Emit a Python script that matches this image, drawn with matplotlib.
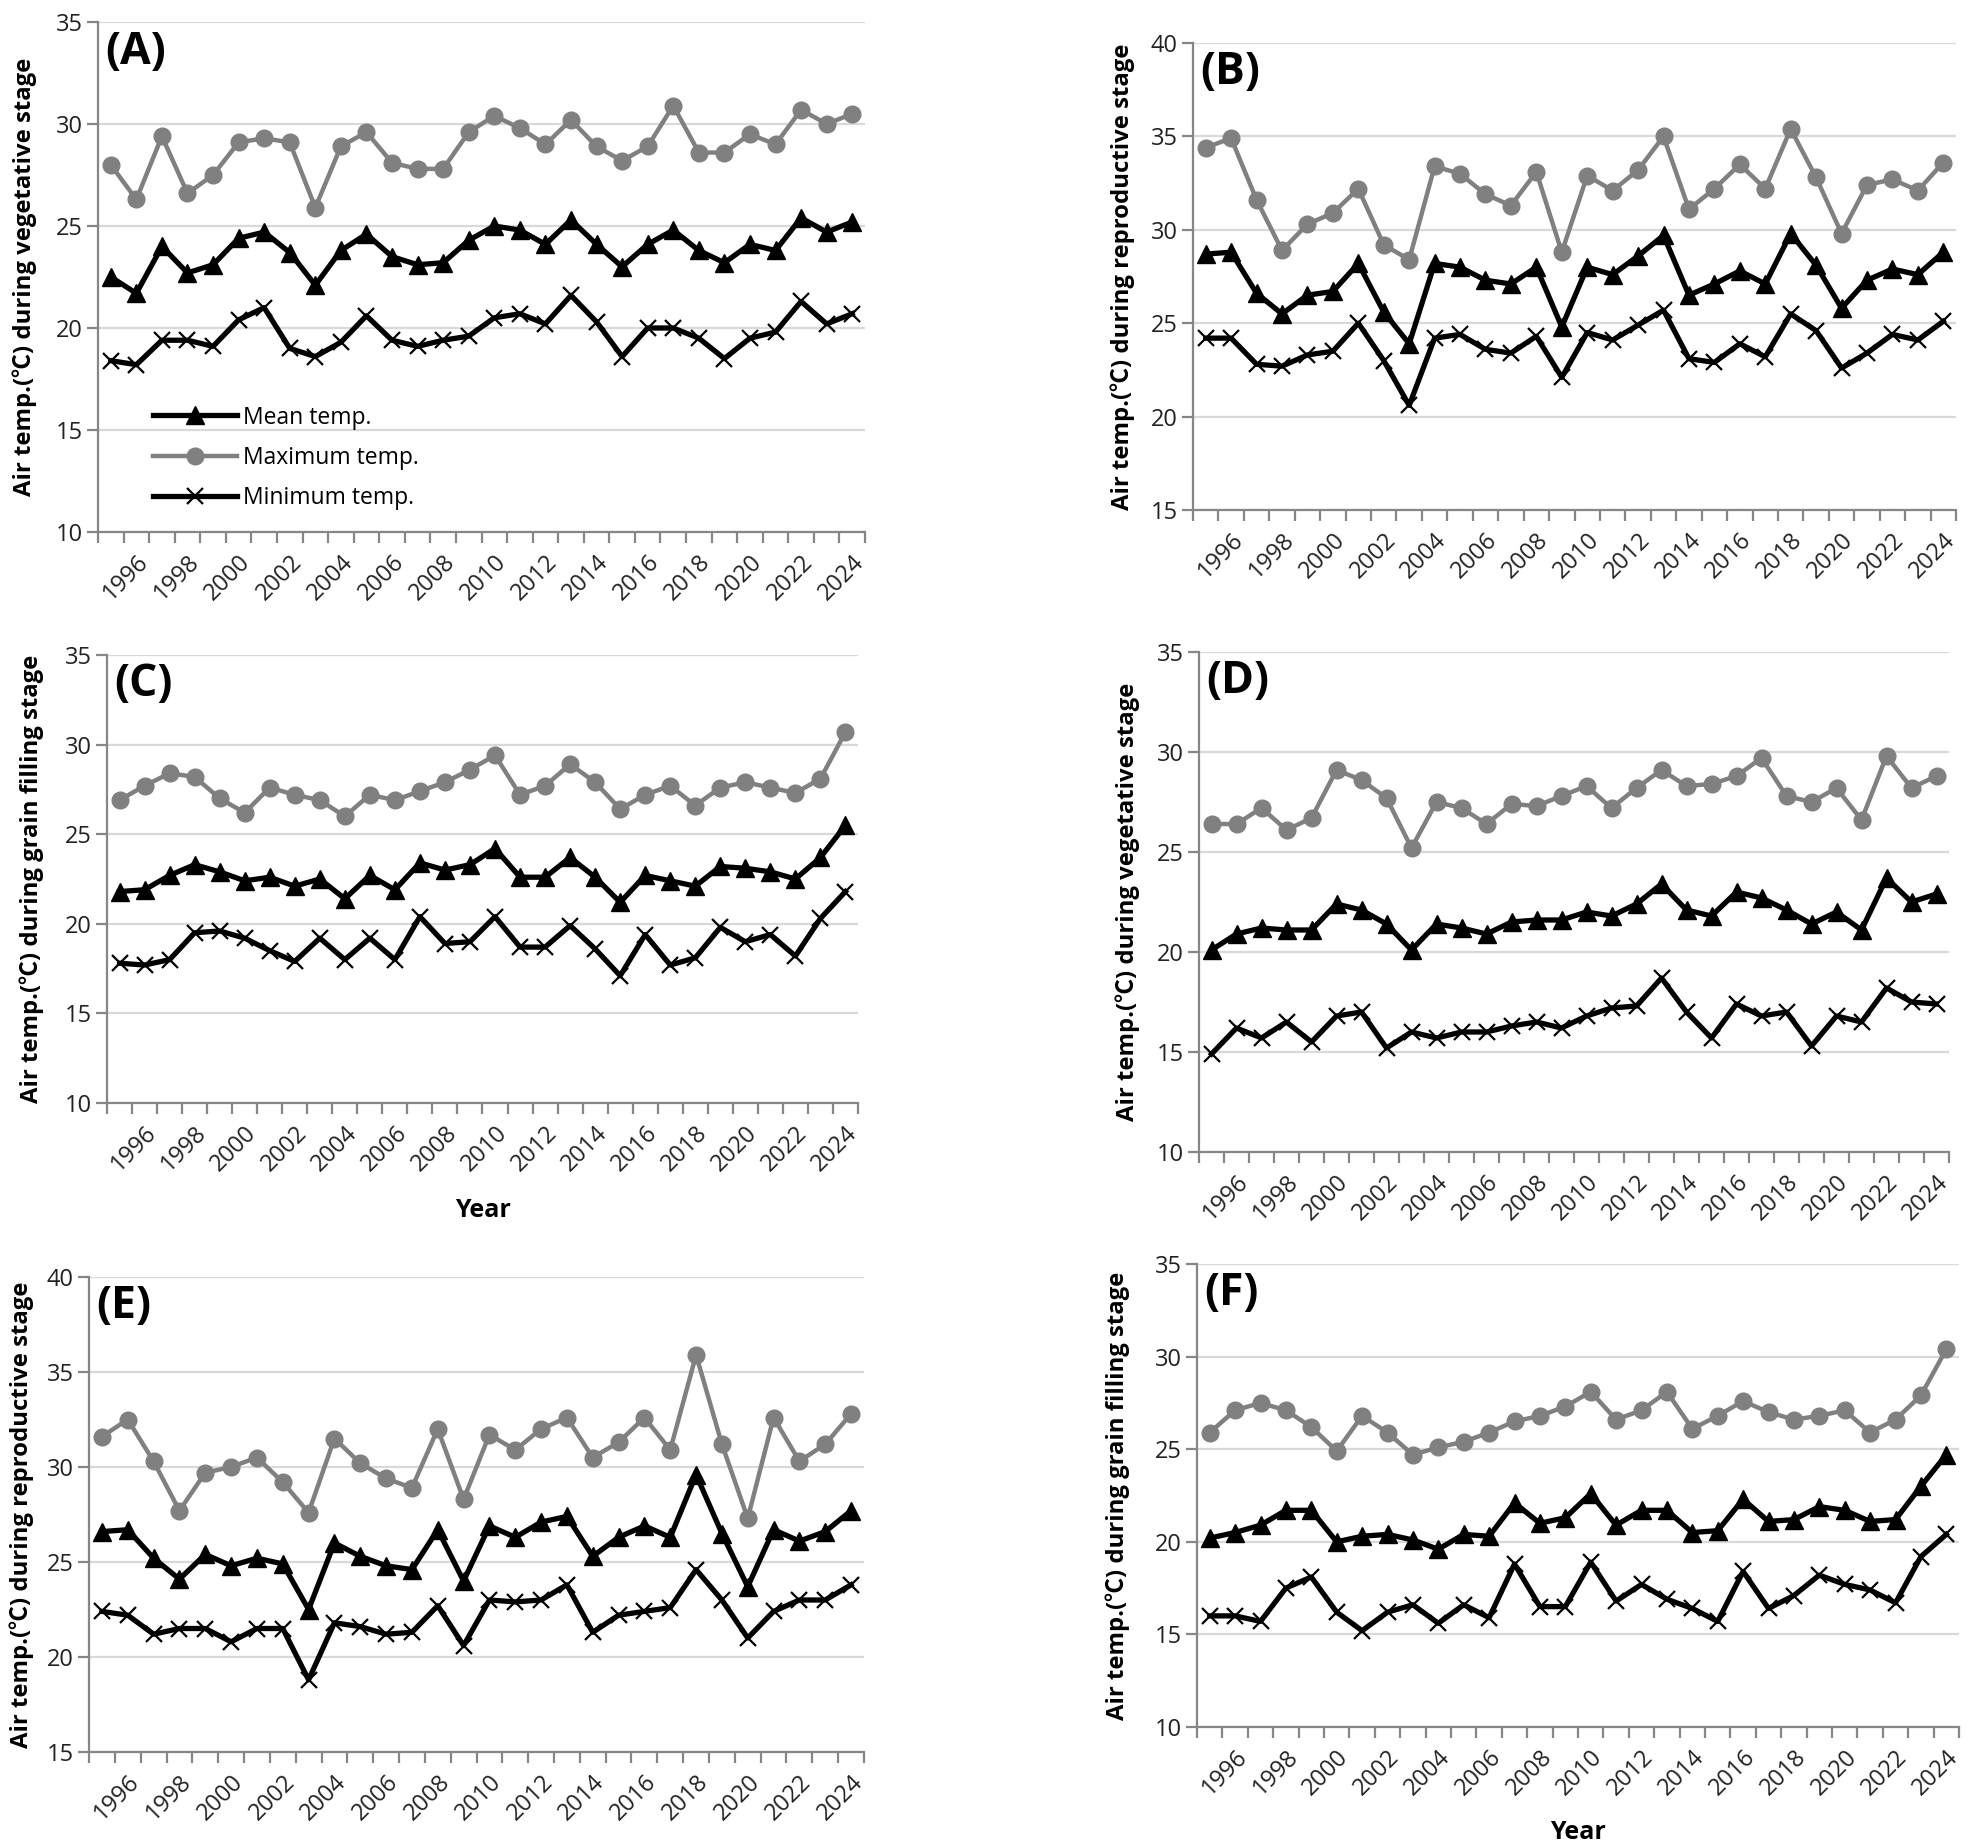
import numpy as np
import matplotlib
matplotlib.use("Agg")
import matplotlib.pyplot as plt

plt.rcParams['font.family'] = ['Open Sans', 'Noto Sans CJK KR', 'DejaVu Sans']

years = list(range(1995, 2025))
tick_years = [str(y) for y in range(1996, 2025, 2)]

# (A) vegetative stage
a_max = [28.0, 26.3, 29.4, 26.6, 27.5, 29.1, 29.3, 29.1, 25.9, 28.9, 29.6, 28.1, 27.8, 27.8, 29.6,
         30.4, 29.8, 29.0, 30.2, 28.9, 28.2, 28.9, 30.9, 28.6, 28.6, 29.5, 29.0, 30.7, 30.0, 30.5]
a_mean = [22.5, 21.7, 24.0, 22.7, 23.1, 24.4, 24.7, 23.7, 22.1, 23.8, 24.6, 23.5, 23.1, 23.2, 24.3,
          25.0, 24.8, 24.1, 25.3, 24.1, 23.0, 24.1, 24.8, 23.8, 23.2, 24.1, 23.8, 25.4, 24.7, 25.2]
a_min = [18.4, 18.2, 19.4, 19.4, 19.1, 20.4, 21.0, 19.0, 18.6, 19.3, 20.6, 19.4, 19.1, 19.4, 19.6,
         20.5, 20.7, 20.2, 21.6, 20.3, 18.6, 20.0, 20.0, 19.5, 18.5, 19.5, 19.8, 21.3, 20.2, 20.7]

# (B) reproductive stage
b_max = [34.4, 34.9, 31.6, 28.9, 30.3, 30.9, 32.2, 29.2, 28.4, 33.4, 33.0, 31.9, 31.3, 33.1, 28.8,
         32.9, 32.1, 33.2, 35.0, 31.1, 32.2, 33.5, 32.2, 35.4, 32.8, 29.8, 32.4, 32.7, 32.1, 33.6]
b_mean = [28.7, 28.8, 26.6, 25.5, 26.5, 26.7, 28.2, 25.6, 23.9, 28.2, 28.0, 27.3, 27.1, 28.0, 24.8,
          28.0, 27.6, 28.6, 29.7, 26.5, 27.1, 27.8, 27.1, 29.8, 28.1, 25.8, 27.3, 27.9, 27.6, 28.8]
b_min = [24.2, 24.2, 22.8, 22.7, 23.3, 23.5, 25.0, 23.0, 20.6, 24.2, 24.4, 23.6, 23.4, 24.3, 22.1,
         24.5, 24.1, 24.9, 25.7, 23.1, 22.9, 23.9, 23.2, 25.5, 24.6, 22.6, 23.4, 24.4, 24.1, 25.1]

# (C) grain filling stage
c_max = [26.9, 27.7, 28.4, 28.2, 27.0, 26.2, 27.6, 27.2, 26.9, 26.0, 27.2, 26.9, 27.4, 27.9, 28.6,
         29.4, 27.2, 27.7, 28.9, 27.9, 26.4, 27.2, 27.7, 26.6, 27.6, 27.9, 27.6, 27.3, 28.1, 30.7]
c_mean = [21.8, 21.9, 22.7, 23.3, 22.9, 22.4, 22.6, 22.1, 22.5, 21.4, 22.7, 21.9, 23.4, 23.0, 23.3,
          24.2, 22.6, 22.6, 23.7, 22.6, 21.2, 22.7, 22.4, 22.1, 23.2, 23.1, 22.9, 22.5, 23.7, 25.5]
c_min = [17.8, 17.7, 18.0, 19.5, 19.6, 19.2, 18.5, 17.9, 19.2, 18.0, 19.2, 18.0, 20.4, 18.9, 19.0,
         20.4, 18.7, 18.7, 19.9, 18.6, 17.1, 19.4, 17.7, 18.1, 19.8, 19.0, 19.4, 18.2, 20.3, 21.8]

# (D) vegetative stage
d_max = [26.4, 26.4, 27.2, 26.1, 26.7, 29.1, 28.6, 27.7, 25.2, 27.5, 27.2, 26.4, 27.4, 27.3, 27.8,
         28.3, 27.2, 28.2, 29.1, 28.3, 28.4, 28.8, 29.7, 27.8, 27.5, 28.2, 26.6, 29.8, 28.2, 28.8]
d_mean = [20.1, 20.9, 21.2, 21.1, 21.1, 22.4, 22.1, 21.4, 20.1, 21.4, 21.2, 20.9, 21.5, 21.6, 21.6,
          22.0, 21.8, 22.4, 23.4, 22.1, 21.8, 23.0, 22.7, 22.1, 21.4, 22.0, 21.1, 23.7, 22.5, 22.9]
d_min = [14.9, 16.2, 15.7, 16.5, 15.5, 16.8, 17.0, 15.2, 16.0, 15.7, 16.0, 16.0, 16.3, 16.5, 16.2,
         16.8, 17.2, 17.3, 18.7, 17.0, 15.7, 17.4, 16.8, 17.0, 15.3, 16.8, 16.5, 18.2, 17.5, 17.4]

# (E) reproductive stage
e_max = [31.6, 32.5, 30.3, 27.7, 29.7, 30.0, 30.5, 29.2, 27.6, 31.5, 30.2, 29.4, 28.9, 32.0, 28.3,
         31.7, 30.9, 32.0, 32.6, 30.5, 31.3, 32.6, 30.9, 35.9, 31.2, 27.3, 32.6, 30.3, 31.2, 32.8]
e_mean = [26.6, 26.7, 25.2, 24.1, 25.4, 24.8, 25.2, 24.9, 22.5, 26.0, 25.3, 24.8, 24.6, 26.7, 24.0,
          26.9, 26.3, 27.1, 27.4, 25.3, 26.3, 26.9, 26.3, 29.6, 26.5, 23.7, 26.7, 26.1, 26.6, 27.7]
e_min = [22.4, 22.2, 21.2, 21.5, 21.5, 20.8, 21.5, 21.5, 18.8, 21.8, 21.6, 21.2, 21.3, 22.7, 20.6,
         23.0, 22.9, 23.0, 23.8, 21.3, 22.2, 22.4, 22.6, 24.6, 23.0, 21.0, 22.4, 23.0, 23.0, 23.8]

# (F) grain filling stage
f_max = [25.9, 27.1, 27.5, 27.1, 26.2, 24.9, 26.8, 25.9, 24.7, 25.1, 25.4, 25.9, 26.5, 26.8, 27.3,
         28.1, 26.6, 27.1, 28.1, 26.1, 26.8, 27.6, 27.0, 26.6, 26.8, 27.1, 25.9, 26.6, 27.9, 30.4]
f_mean = [20.2, 20.5, 20.9, 21.7, 21.7, 20.0, 20.3, 20.4, 20.1, 19.6, 20.4, 20.3, 22.1, 21.0, 21.3,
          22.6, 20.9, 21.7, 21.7, 20.5, 20.6, 22.3, 21.1, 21.2, 21.9, 21.7, 21.1, 21.2, 23.0, 24.7]
f_min = [16.0, 16.0, 15.7, 17.5, 18.1, 16.2, 15.2, 16.2, 16.6, 15.6, 16.6, 15.9, 18.8, 16.5, 16.5,
         18.9, 16.8, 17.7, 16.9, 16.4, 15.7, 18.4, 16.4, 17.1, 18.2, 17.7, 17.4, 16.7, 19.2, 20.4]

veg = "Air temp.(℃) during vegetative stage"
rep = "Air temp.(℃) during reproductive stage"
gra = "Air temp.(℃) during grain filling stage"

# panel, ylabel, ylim, data, pixel box (x0, y0, x1, y1), ylabel x, xlabel y
panels = [
    ("(A)", veg, (10, 35), (a_mean, a_max, a_min), (98, 22, 865, 532), -0.095, None),
    ("(B)", rep, (15, 40), (b_mean, b_max, b_min), (1193, 43, 1956, 510), -0.092, None),
    ("(C)", gra, (10, 35), (c_mean, c_max, c_min), (107, 655, 858, 1103), -0.100, -0.212),
    ("(D)", veg, (10, 35), (d_mean, d_max, d_min), (1199, 652, 1949, 1152), -0.095, None),
    ("(E)", rep, (15, 40), (e_mean, e_max, e_min), (89, 1277, 864, 1752), -0.087, None),
    ("(F)", gra, (10, 35), (f_mean, f_max, f_min), (1197, 1264, 1959, 1727), -0.104, -0.200),
]

W, H = 1975, 1847
fig = plt.figure(figsize=(W / 100, H / 100), dpi=100)

x = np.arange(len(years))
axis_grey = "#868686"

for tag, ylab, ylim, (mean, mx, mn), box, ylx, xly in panels:
    x0, y0, x1, y1 = box
    ax = fig.add_axes([x0 / W, 1 - y1 / H, (x1 - x0) / W, (y1 - y0) / H])

    ax.plot(x, mean, color="black", lw=3.8, marker="^", ms=13, label="Mean temp.", zorder=4)
    ax.plot(x, mx, color="#808080", lw=3.2, marker="o", ms=12, label="Maximum temp.", zorder=3)
    ax.plot(x, mn, color="black", lw=3.8, marker="x", ms=12, mew=1.6, label="Minimum temp.", zorder=4)

    ax.set_xlim(-0.5, len(years) - 0.5)
    ax.set_ylim(*ylim)
    ax.set_yticks(np.arange(ylim[0], ylim[1] + 1, 5))
    ax.yaxis.grid(True, color="#d9d9d9", lw=1.6)
    ax.set_axisbelow(True)

    ax.set_xticks(x[1::2])
    ax.set_xticklabels(tick_years, rotation=45, ha="right", rotation_mode="anchor")
    ax.set_xticks(np.arange(-0.5, len(years)), minor=True)
    ax.tick_params(axis="x", which="major", length=0, pad=13, labelsize=17, labelcolor="#222222")
    ax.tick_params(axis="x", which="minor", length=8, width=1.6, color=axis_grey, direction="out")
    ax.tick_params(axis="y", length=8, width=1.6, color=axis_grey, labelsize=17, pad=3,
                   labelcolor="#222222")

    for s in ("top", "right"):
        ax.spines[s].set_visible(False)
    for s in ("left", "bottom"):
        ax.spines[s].set_color(axis_grey)
        ax.spines[s].set_linewidth(1.6)

    ax.set_ylabel(ylab, fontsize=17.2, fontweight="bold", va="center")
    ax.yaxis.set_label_coords(ylx, 0.5)
    if xly is not None:
        ax.set_xlabel("Year", fontsize=18, fontweight="bold", va="top")
        ax.xaxis.set_label_coords(0.5, xly)

    ax.text(0.009, 0.985, tag, transform=ax.transAxes, fontsize=32,
            fontweight="bold", va="top", ha="left")

    if tag == "(A)":
        ax.legend(loc="upper left", bbox_to_anchor=(0.072, 0.248), frameon=False,
                  fontsize=16.5, handlelength=3.65, handletextpad=0.25, labelspacing=0.7,
                  borderaxespad=0, borderpad=0)

fig.savefig("out.png", dpi=100)
